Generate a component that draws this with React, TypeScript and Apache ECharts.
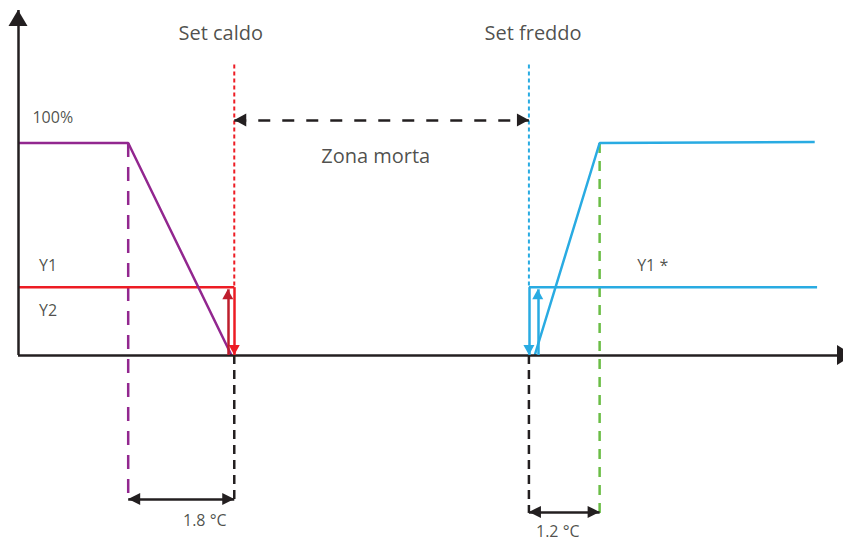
import { useEffect, useRef } from "react";
import * as echarts from "echarts";

// Axis domains (x in °C, y in % of output)
const xDomain = [16.33, 30.33];
const yDomain = [-88, 163];

// Solid characteristic curves
const heatRamp = [[16.33, 100], [18.2, 100], [19.95, 0]];
const heatY1 = [[16.33, 32], [20, 32]];
const coolY1 = [[25, 32], [29.89, 32]];
const coolRamp = [[25.1, 0], [26.2, 100], [29.85, 100.5]];

// Guide lines
const heatBandGuide = [[18.2, 100], [18.2, -68]];
const heatSetGuideTop = [[20, 137], [20, 32]];
const heatSetGuideBottom = [[20, 0], [20, -68.5]];
const coolSetGuideTop = [[25, 137], [25, 32]];
const coolSetGuideBottom = [[25, 0], [25, -74.5]];
const coolBandGuide = [[26.2, 100], [26.2, -74.5]];

// Arrows: [from, to]; tip at "to"
const yAxisArrow = [[16.33, 0], [16.33, 162.7]];
const xAxisArrow = [[16.33, 0], [30.33, 0]];
const heatDropArrow = [[20, 32], [20, 0]];
const heatRiseArrow = [[19.89, 0], [19.89, 31]];
const coolDropArrow = [[25, 32], [25, 0]];
const coolRiseArrow = [[25.15, 0], [25.15, 31]];
const deadBandArrow = [[20, 110.8], [25, 110.8]];
const heatBandArrow = [[18.2, -67.9], [20, -67.9]];
const coolBandArrow = [[25, -74], [26.2, -74]];

// Text labels
const bigLabels = ["Set caldo", "Set freddo", "Zona morta"];
const bigLabelPos = [[19.77, 152], [25.07, 152], [22.4, 93.9]];
const smallLabels = ["100%", "Y1", "Y2", "Y1 *", "1.8 °C", "1.2 °C"];
const smallLabelPos = [[16.92, 112.3], [16.84, 42.5], [16.84, 21.2], [27.1, 42.5], [19.5, -77.8], [25.49, -83.1]];

const INK = "#231f20";
const PURPLE = "#92278f";
const RED = "#ed1c24";
const DARKRED = "#be1e2d";
const BLUE = "#29abe2";
const GREEN = "#6abd45";
const FONT = "'Open Sans', sans-serif";

function solid(data: number[][], color: string, width = 2.5) {
  return {
    type: "line",
    data,
    symbol: "none",
    silent: true,
    lineStyle: { color, width, type: "solid" },
    z: 3,
  };
}

function dashed(data: number[][], color: string, dash: number[], width = 2.5) {
  return {
    type: "line",
    data,
    symbol: "none",
    silent: true,
    lineStyle: { color, width, type: dash },
    z: 2,
  };
}

function arrow(
  seg: number[][],
  color: string,
  size: number[],
  both = false,
  dash: any = "solid",
  width = 2.5,
  overshoot = 0
) {
  const ls = { color, width, type: dash };
  return [
    { coord: seg[0], symbol: both ? "triangle" : "none", symbolSize: size, symbolOffset: [0, size[1] / 2], lineStyle: ls },
    { coord: seg[1], symbol: "triangle", symbolSize: size, symbolOffset: [0, size[1] / 2 - overshoot], lineStyle: ls },
  ];
}

function labelSeries(names: string[], pos: number[][], size: number) {
  return {
    type: "scatter",
    silent: true,
    symbolSize: 1,
    itemStyle: { color: "transparent" },
    data: names.map((n, i) => ({ name: n, value: pos[i] })),
    label: {
      show: true,
      position: "inside",
      formatter: "{b}",
      color: INK,
      fontFamily: FONT,
      fontSize: size,
      lineHeight: size * 1.1,
      align: "center",
      verticalAlign: "middle",
    },
    z: 5,
  };
}

export default function App() {
  const ref = useRef<HTMLDivElement>(null);
  useEffect(() => {
    if (!ref.current) return;
    const chart = echarts.init(ref.current, null, { renderer: "svg" });
    chart.setOption({
      animation: false,
      backgroundColor: "#ffffff",
      grid: { left: 18, right: 0, top: 9.44, bottom: 0.44 },
      xAxis: { type: "value", min: xDomain[0], max: xDomain[1], show: false },
      yAxis: { type: "value", min: yDomain[0], max: yDomain[1], show: false },
      series: [
        dashed(heatBandGuide, PURPLE, [14, 10]),
        dashed(heatSetGuideTop, RED, [4, 3], 2),
        dashed(heatSetGuideBottom, INK, [9, 6]),
        dashed(coolSetGuideTop, BLUE, [4, 3], 2),
        dashed(coolSetGuideBottom, INK, [9, 6]),
        dashed(coolBandGuide, GREEN, [10, 8]),
        solid(heatY1, RED),
        solid(coolY1, BLUE),
        solid(heatRamp, PURPLE),
        solid(coolRamp, BLUE),
        {
          type: "line",
          data: [],
          silent: true,
          z: 4,
          markLine: {
            silent: true,
            animation: false,
            label: { show: false },
            emphasis: { disabled: true },
            data: [
              arrow(yAxisArrow, INK, [19, 16]),
              arrow(xAxisArrow, INK, [20, 16], false, "solid", 2.5, 10),
              arrow(heatDropArrow, RED, [11, 10]),
              arrow(heatRiseArrow, DARKRED, [11, 10]),
              arrow(coolDropArrow, BLUE, [11, 10]),
              arrow(coolRiseArrow, BLUE, [11, 10]),
              arrow(deadBandArrow, INK, [13, 12], true, [12, 12]),
              arrow(heatBandArrow, INK, [12, 12], true),
              arrow(coolBandArrow, INK, [12, 12], true),
            ],
          },
        },
        labelSeries(bigLabels, bigLabelPos, 20),
        labelSeries(smallLabels, smallLabelPos, 16),
      ],
    });
    return () => chart.dispose();
  }, []);
  return <div ref={ref} style={{ position: "fixed", left: 0, top: 0, width: 843, height: 542 }} />;
}
